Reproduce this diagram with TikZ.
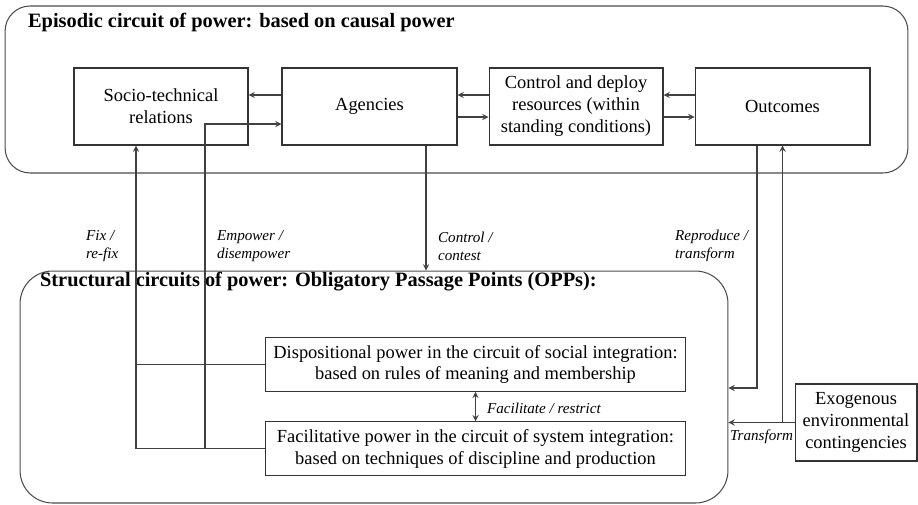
\documentclass[tikz,border=0pt]{standalone}
\usepackage{fontspec}
\setmainfont{Liberation Serif}
\usetikzlibrary{arrows}

\begin{document}
\begin{tikzpicture}[
    x=0.02cm, y=-0.02cm,
    frame/.style={rectangle, draw=black!70, line width=0.6pt, rounded corners=0.5cm},
    box/.style={rectangle, draw=black!80, line width=0.6pt, fill=white, font=\fontsize{10.5}{12.5}\selectfont, align=center, inner sep=2pt, minimum height=1.54cm},
    heading/.style={anchor=west, inner sep=1pt, font=\fontsize{11.6}{14}\selectfont\bfseries},
    tag/.style={anchor=west, align=left, inner sep=1pt, font=\fontsize{8.6}{10.2}\selectfont\itshape},
    arrow/.style={->, >=stealth, line width=0.6pt, draw=black!75},
    doublearrow/.style={<->, >=stealth, line width=0.6pt, draw=black!75},
    link/.style={line width=0.6pt, draw=black!75}
]
\useasboundingbox (0,0) rectangle (918,504);

% Episodic circuit
\node[frame, minimum width=18.06cm, minimum height=3.34cm] (episodic) at (456.5,89.5) {};
\node[heading] (episodictitle) at (26,22) {Episodic circuit of power: based on causal power};

% Structural circuits
\node[frame, rounded corners=0.65cm, minimum width=14.16cm, minimum height=4.64cm] (structural) at (374,387) {};
\node[heading] (structuraltitle) at (38,282) {Structural circuits of power: Obligatory Passage Points (OPPs):};

% Boxes of the episodic circuit
\node[box, minimum width=3.48cm] (socio) at (161,106.5) {Socio-technical\\relations};
\node[box, minimum width=3.5cm] (agency) at (369.5,106.5) {Agencies};
\node[box, minimum width=3.48cm] (control) at (576,106.5) {Control and deploy\\resources (within\\standing conditions)};
\node[box, minimum width=3.5cm] (outcome) at (782.5,106.5) {Outcomes};

% Boxes of the structural circuits
\node[box, minimum width=8.42cm, minimum height=1.07cm] (disp) at (475.5,364.5) {Dispositional power in the circuit of social integration:\\based on rules of meaning and membership};
\node[box, minimum width=8.42cm, minimum height=1.07cm] (fac) at (475.5,448.5) {Facilitative power in the circuit of system integration:\\based on techniques of discipline and production};

% Environment
\node[box, minimum width=2.44cm] (exo) at (856,422.5) {Exogenous\\environmental\\contingencies};

% Labels
\node[tag] (fixtag) at (84,246) {Fix /\\re-fix};
\node[tag] (empowertag) at (215,246) {Empower /\\disempower};
\node[tag] (controltag) at (436,246) {Control /\\contest};
\node[tag] (reprotag) at (673,246) {Reproduce /\\transform};
\node[tag] (facilitatetag) at (485,408) {Facilitate / restrict};
\node[tag] (transformtag) at (728,437) {Transform};

% Arrows within the episodic circuit
\draw[arrow] ([yshift=0.23cm]agency.west) -- ([yshift=0.23cm]socio.east);
\draw[arrow] ([yshift=0.23cm]control.west) -- ([yshift=0.23cm]agency.east);
\draw[arrow] ([yshift=-0.21cm]agency.east) -- ([yshift=-0.21cm]control.west);
\draw[arrow] ([yshift=0.23cm]outcome.west) -- ([yshift=0.23cm]control.east);
\draw[arrow] ([yshift=-0.21cm]control.east) -- ([yshift=-0.21cm]outcome.west);

% Arrows between the circuits
\coordinate (fixline) at (136,448.5);
\coordinate (empline) at (205,124);
\coordinate (ctrlline) at (426,145);
\coordinate (reproline) at (757,388);
\draw[link] (disp.west) -- (disp.west -| fixline);
\draw[arrow] (fac.west) -- (fixline) -- (fixline |- socio.south);
\draw[arrow] (fac.west -| empline) -- (empline) -- (empline -| agency.west);
\draw[arrow] (agency.south -| ctrlline) -- (ctrlline |- structural.north);
\draw[arrow] (outcome.south -| reproline) -- (reproline) -- (reproline -| structural.east);
\draw[arrow] (exo.west) -- (exo.west -| structural.east);
\draw[arrow] (exo.west -| outcome.south) -- (outcome.south);
\draw[doublearrow] (disp) -- (fac);

\end{tikzpicture}
\end{document}
